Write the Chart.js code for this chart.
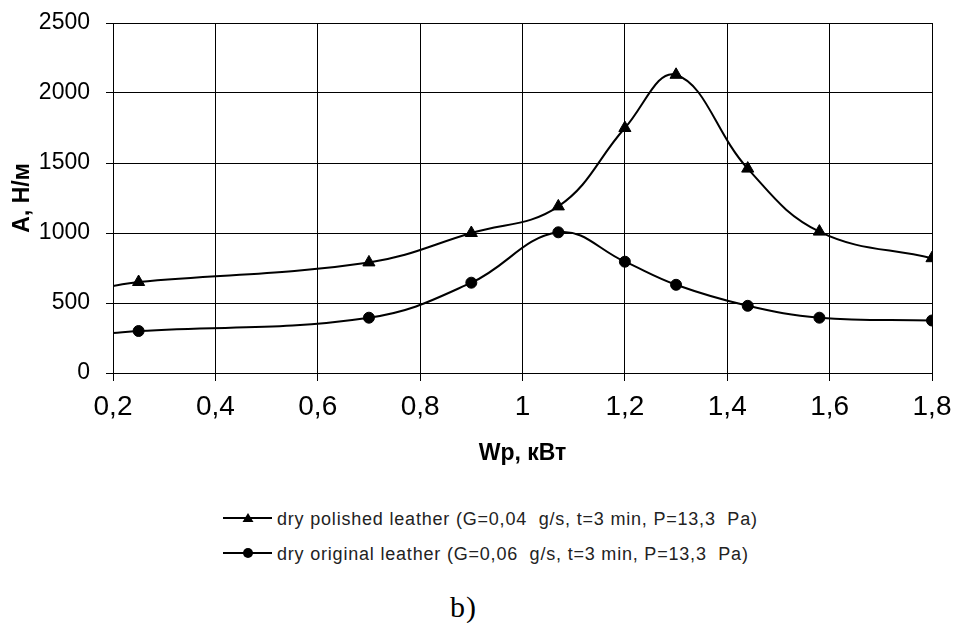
<!DOCTYPE html>
<html>
<head>
<meta charset="utf-8">
<script src="https://cdn.jsdelivr.net/npm/chart.js@4"></script>
<style>
  html, body { margin: 0; padding: 0; background: #fff; }
  #page { position: relative; width: 954px; height: 623px; overflow: hidden; }
  #chart-box { position: absolute; left: 0; top: 0; width: 954px; height: 470px; }
  .legend-row { position: absolute; left: 277px; height: 22px; line-height: 22px;
    font-family: "Liberation Sans", Arial, sans-serif; font-size: 18px; letter-spacing: 0.8px; color: #222; white-space: pre; }
  .swatch { position: absolute; left: 223px; }
  #caption { position: absolute; left: 450px; top: 592px; font-family: "Liberation Serif", "Times New Roman", serif;
    font-size: 30px; line-height: 30px; letter-spacing: 1px; color: #000; }
</style>
</head>
<body>
<div id="page">
  <div id="chart-box"><canvas id="chart"></canvas></div>
  <canvas class="swatch" id="sw1" width="50" height="14" style="top:511px"></canvas>
  <div class="legend-row" id="lg1" style="top:508px"></div>
  <canvas class="swatch" id="sw2" width="50" height="14" style="top:546px"></canvas>
  <div class="legend-row" id="lg2" style="top:543px"></div>
  <div id="caption">b)</div>
</div>
<script>
// Wp, kW (first point at 0.2 is where the curves start, no marker there)
const wp = [0.2, 0.25, 0.7, 0.9, 1.07, 1.2, 1.3, 1.44, 1.58, 1.8];
const polished = [622, 650, 790, 1000, 1190, 1750, 2130, 1460, 1010, 820];
const original = [285, 300, 395, 645, 1005, 795, 630, 480, 395, 375];
const markerShown = [false, true, true, true, true, true, true, true, true, true];

const seriesLabels = [
  "dry polished leather (G=0,04  g/s, t=3 min, P=13,3  Pa)",
  "dry original leather (G=0,06  g/s, t=3 min, P=13,3  Pa)"
];
const xTickLabels = ["0,2", "0,4", "0,6", "0,8", "1", "1,2", "1,4", "1,6", "1,8"];
const yTicks = [0, 500, 1000, 1500, 2000, 2500];

const toPoints = ys => wp.map((x, i) => ({ x: x, y: ys[i] }));

const font = "'Liberation Sans', Arial, sans-serif";

new Chart(document.getElementById("chart"), {
  type: "line",
  data: {
    datasets: [
      {
        label: seriesLabels[0],
        data: toPoints(polished),
        borderColor: "#000",
        backgroundColor: "#000",
        borderWidth: 2,
        tension: 0.4,
        pointStyle: "triangle",
        pointRadius: ctx => markerShown[ctx.dataIndex] ? 7 : 0,
        pointBorderWidth: 1
      },
      {
        label: seriesLabels[1],
        data: toPoints(original),
        borderColor: "#000",
        backgroundColor: "#000",
        borderWidth: 2,
        tension: 0.4,
        pointStyle: "circle",
        pointRadius: ctx => markerShown[ctx.dataIndex] ? 5.5 : 0,
        pointBorderWidth: 1
      }
    ]
  },
  options: {
    responsive: true,
    maintainAspectRatio: false,
    animation: false,
    layout: { padding: { top: 23, right: 22, left: 0, bottom: 0 } },
    plugins: {
      legend: { display: false },
      tooltip: { enabled: false }
    },
    scales: {
      x: {
        type: "linear",
        min: 0.2,
        max: 1.8,
        afterFit: s => { s.height = 97; s.paddingLeft = 0; s.paddingRight = 0; },
        ticks: {
          stepSize: 0.2,
          padding: 9,
          color: "#000",
          font: { family: font, size: 28 },
          callback: (v, i) => xTickLabels[i]
        },
        grid: { color: "#000", lineWidth: 1, tickLength: 8 },
        border: { color: "#000", width: 1 },
        title: {
          display: true,
          text: "Wp, кВт",
          color: "#000",
          font: { family: font, size: 23, weight: "bold" },
          padding: { top: 0, bottom: 3 }
        }
      },
      y: {
        min: 0,
        max: 2500,
        afterFit: s => { s.width = 113; s.paddingTop = 0; s.paddingBottom = 0; },
        afterBuildTicks: s => { s.ticks = yTicks.map(v => ({ value: v })); },
        ticks: {
          padding: 16,
          color: "#000",
          font: { family: font, size: 23 },
          callback: v => String(v)
        },
        grid: { color: "#000", lineWidth: 1, tickLength: 7 },
        border: { color: "#000", width: 1 },
        title: {
          display: true,
          text: "А, Н/м",
          color: "#000",
          font: { family: font, size: 23, weight: "bold" },
          padding: { top: 9, bottom: 0 }
        }
      }
    }
  }
});

// legend rows: swatch line with marker + text
function drawSwatch(id, shape) {
  const c = document.getElementById(id).getContext("2d");
  c.strokeStyle = "#000";
  c.fillStyle = "#000";
  c.lineWidth = 2;
  c.beginPath();
  c.moveTo(0, 7);
  c.lineTo(49, 7);
  c.stroke();
  c.beginPath();
  if (shape === "triangle") {
    c.moveTo(25, 2);
    c.lineTo(30.5, 11);
    c.lineTo(19.5, 11);
    c.closePath();
  } else {
    c.arc(25, 7, 5, 0, Math.PI * 2);
  }
  c.fill();
}
drawSwatch("sw1", "triangle");
drawSwatch("sw2", "circle");
document.getElementById("lg1").textContent = seriesLabels[0];
document.getElementById("lg2").textContent = seriesLabels[1];
</script>
</body>
</html>
